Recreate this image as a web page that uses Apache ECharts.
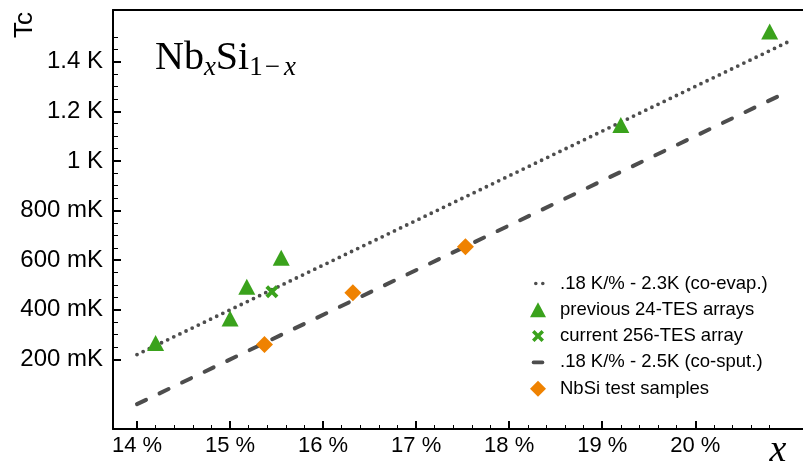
<!DOCTYPE html>
<html><head><meta charset="utf-8">
<script src="https://cdn.jsdelivr.net/npm/echarts@6/dist/echarts.min.js"></script>
<style>html,body{margin:0;padding:0;background:#fff}#c{width:803px;height:466px}</style>
</head><body><div id="c"></div>
<script>
// ---- data ----
const coEvapLine = [[14.0, 0.22], [21.0, 1.48]];          // .18 K/% - 2.3K
const coSputLine = [[14.0, 0.02], [21.0, 1.28]];          // .18 K/% - 2.5K
const previousArrays = [[14.2, 0.266], [15.0, 0.365], [15.18, 0.493], [15.55, 0.61], [19.2, 1.145], [20.8, 1.521]];
const currentArray = [[15.45, 0.473]];
const testSamples = [[15.37, 0.26], [16.32, 0.469], [17.53, 0.654]];
const xTicks = [14, 15, 16, 17, 18, 19, 20];
const xMinorTicks = [14.2,14.4,14.6,14.8,15.2,15.4,15.6,15.8,16.2,16.4,16.6,16.8,17.2,17.4,17.6,17.8,18.2,18.4,18.6,18.8,19.2,19.4,19.6,19.8,20.2,20.4,20.6,20.8];
const yTicks = [0.2, 0.4, 0.6, 0.8, 1.0, 1.2, 1.4];
const yMinorTicks = [0.25,0.3,0.35,0.45,0.5,0.55,0.65,0.7,0.75,0.85,0.9,0.95,1.05,1.1,1.15,1.25,1.3,1.35,1.45,1.5];
const legendNames = ['.18 K/% - 2.3K (co-evap.)', 'previous 24-TES arrays', 'current 256-TES array', '.18 K/% - 2.5K (co-sput.)', 'NbSi test samples'];

const GREEN = '#3aa21c', ORANGE = '#ef8200', GRAY = '#4d4d4d';
const X_MIN = 13.742, X_MAX = 21.158, Y_MIN = -0.08, Y_MAX = 1.608;
const crossPath = 'path://M-6,-3.5L-3.5,-6L0,-2.5L3.5,-6L6,-3.5L2.5,0L6,3.5L3.5,6L0,2.5L-3.5,6L-6,3.5L-2.5,0Z';
const BOX = 'M0,0M29,16';
const icons = [
  'path://' + BOX + 'M8,8a1.8,1.8 0 1,0 3.6,0a1.8,1.8 0 1,0 -3.6,0ZM15,8a1.8,1.8 0 1,0 3.6,0a1.8,1.8 0 1,0 -3.6,0Z',
  'path://' + BOX + 'M12,0.5L20,15.5L4,15.5Z',
  'path://' + BOX + 'M6,4.5L8.5,2L12,5.5L15.5,2L18,4.5L14.5,8L18,11.5L15.5,14L12,10.5L8.5,14L6,11.5L9.5,8Z',
  'path://' + BOX + 'M7.5,6.2L16.5,6.2A1.8,1.8 0 0 1 16.5,9.8L7.5,9.8A1.8,1.8 0 0 1 7.5,6.2Z',
  'path://' + BOX + 'M12,0L20,8L12,16L4,8Z'
];

function yLabel(v) {
  if (v < 0.999) return Math.round(v * 1000) + ' mK';
  return (Math.round(v * 10) / 10) + ' K';
}

const chart = echarts.init(document.getElementById('c'), null, {renderer: 'canvas'});
const axisBase = {type: 'value', splitLine: {show: false}};
chart.setOption({
  animation: false,
  backgroundColor: '#fff',
  grid: {left: 113, top: 10, right: 0, bottom: 37},
  xAxis: [
    Object.assign({}, axisBase, {position: 'bottom', min: X_MIN, max: X_MAX,
      axisLine: {show: true, onZero: false, lineStyle: {color: '#000', width: 2}},
      axisTick: {show: true, inside: true, length: 8, customValues: xTicks, lineStyle: {color: '#000', width: 2}},
      axisLabel: {show: true, customValues: xTicks, formatter: v => v + ' %', color: '#000', fontSize: 22, fontFamily: 'Liberation Sans', margin: 6}}),
    Object.assign({}, axisBase, {position: 'bottom', min: X_MIN, max: X_MAX,
      axisLine: {show: false, onZero: false},
      axisTick: {show: true, inside: true, length: 4, customValues: xMinorTicks, lineStyle: {color: '#000', width: 1}},
      axisLabel: {show: false}}),
    Object.assign({}, axisBase, {position: 'top', min: X_MIN, max: X_MAX,
      axisLine: {show: true, onZero: false, lineStyle: {color: '#000', width: 2}},
      axisTick: {show: false}, axisLabel: {show: false}})
  ],
  yAxis: [
    Object.assign({}, axisBase, {position: 'left', min: Y_MIN, max: Y_MAX,
      axisLine: {show: true, onZero: false, lineStyle: {color: '#000', width: 2}},
      axisTick: {show: true, inside: true, length: 8, customValues: yTicks, lineStyle: {color: '#000', width: 2}},
      axisLabel: {show: true, customValues: yTicks, formatter: yLabel, color: '#000', fontSize: 24, fontFamily: 'Liberation Sans', margin: 10}}),
    Object.assign({}, axisBase, {position: 'left', min: Y_MIN, max: Y_MAX,
      axisLine: {show: false, onZero: false},
      axisTick: {show: true, inside: true, length: 5, customValues: yMinorTicks, lineStyle: {color: '#000', width: 1}},
      axisLabel: {show: false}})
  ],
  legend: {
    orient: 'vertical', left: 521, top: 269,
    itemWidth: 29, itemHeight: 16, itemGap: 7.3,
    itemStyle: {borderWidth: 0, opacity: 1},
    textStyle: {color: '#000', fontSize: 18.5, fontFamily: 'Liberation Sans', lineHeight: 16},
    data: legendNames.map((n, i) => ({name: n, icon: icons[i]}))
  },
  series: [
    {name: legendNames[0], type: 'line', data: coEvapLine, symbol: 'none', color: GRAY, z: 2,
      lineStyle: {color: GRAY, width: 3.8, type: [0, 6.8], cap: 'round'}},
    {name: legendNames[3], type: 'line', data: coSputLine, symbol: 'none', color: GRAY, z: 2,
      lineStyle: {color: GRAY, width: 4, type: [10, 15], cap: 'round'}},
    {name: legendNames[1], type: 'scatter', data: previousArrays, symbol: 'triangle', symbolSize: [17, 16], z: 3,
      itemStyle: {color: GREEN, opacity: 1}},
    {name: legendNames[2], type: 'scatter', data: currentArray, symbol: crossPath, symbolSize: 13, z: 3,
      itemStyle: {color: GREEN, opacity: 1}},
    {name: legendNames[4], type: 'scatter', data: testSamples, symbol: 'diamond', symbolSize: 17, z: 3,
      itemStyle: {color: ORANGE, opacity: 1}}
  ]
});

// ---- text decorations (title, axis names) ----
const ctx = document.createElement('canvas').getContext('2d');
function tw(font, s) { ctx.font = font; return ctx.measureText(s).width; }
const MAIN = '40px "Liberation Serif"', SUB = '27px "Liberation Serif"', SUBI = 'italic 27px "Liberation Serif"';
let x0 = 155;
const baseY = 58.5, subY = 67.5;
const parts = [
  {t: 'Nb', f: MAIN, y: baseY},
  {t: 'x', f: SUBI, y: subY},
  {t: 'Si', f: MAIN, y: baseY},
  {t: '1', f: SUB, y: subY},
  {t: '\u2212', f: SUB, y: subY, pad: 2},
  {t: 'x', f: SUBI, y: subY, padL: 2}
];
const gfx = [];
for (const p of parts) {
  if (p.padL) x0 += p.padL;
  if (p.pad) x0 += p.pad;
  gfx.push({type: 'text', x: x0, y: p.y, style: {text: p.t, font: p.f, fill: '#000', verticalAlign: 'middle', align: 'left'}});
  x0 += tw(p.f, p.t) + (p.pad || 0);
}
gfx.push({type: 'text', x: 25, y: 25, rotation: Math.PI / 2,
  style: {text: 'Tc', font: '26px "Liberation Sans"', fill: '#000', align: 'center', verticalAlign: 'middle'}});
gfx.push({type: 'text', x: 778, y: 451,
  style: {text: 'x', font: 'italic 38px "Liberation Serif"', fill: '#000', align: 'center', verticalAlign: 'middle'}});
chart.setOption({graphic: gfx});
</script>
</body></html>
